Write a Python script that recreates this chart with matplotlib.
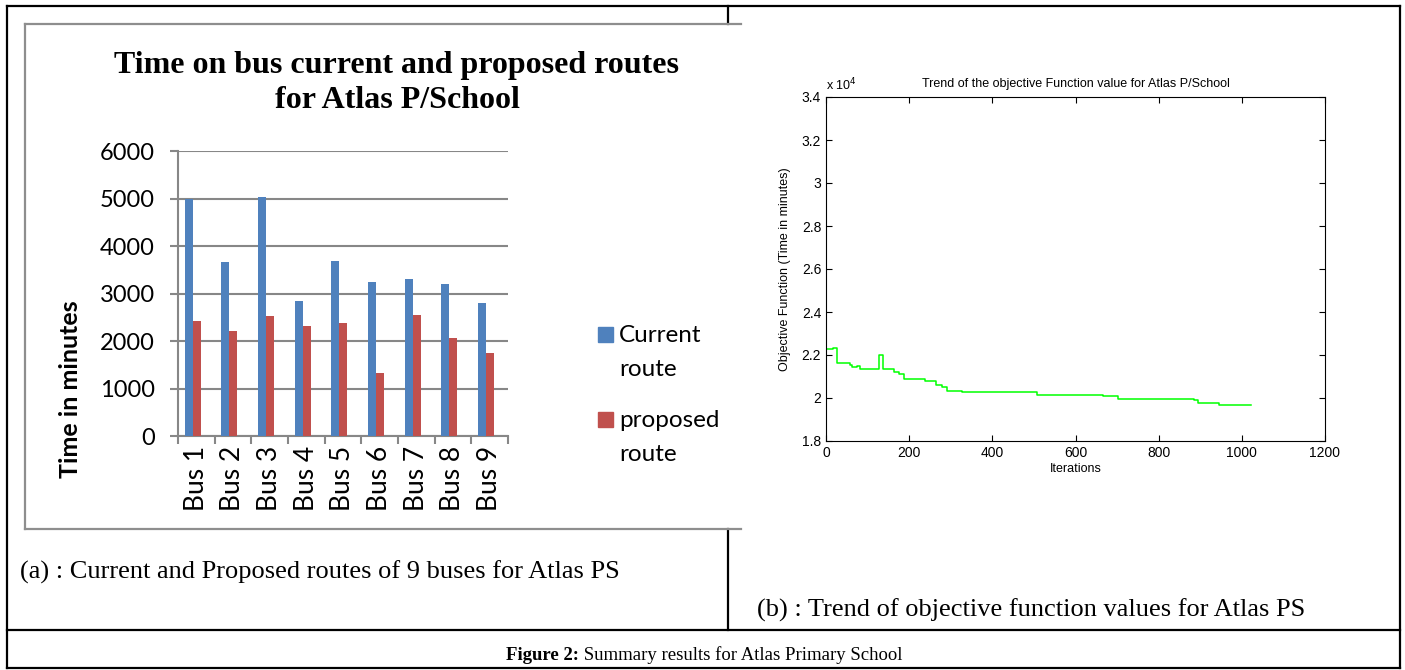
import numpy as np
import matplotlib.pyplot as plt
from matplotlib.ticker import FuncFormatter

# (a) time on bus, minutes
buses = ["Bus 1", "Bus 2", "Bus 3", "Bus 4", "Bus 5", "Bus 6", "Bus 7", "Bus 8", "Bus 9"]
current_route = [5000, 3660, 5040, 2850, 3680, 3240, 3300, 3200, 2800]
proposed_route = [2420, 2220, 2540, 2310, 2380, 1330, 2550, 2060, 1760]
series_names = ["Current\nroute", "proposed\nroute"]
bar_colors = ["#4F81BD", "#C0504D"]

# (b) objective function trend, step points (iteration, minutes)
iterations = [0, 1, 16, 26, 57, 62, 75, 82, 128, 138, 164, 176, 188, 238,
              265, 278, 290, 326, 507, 667, 703, 884, 894, 946, 1021]
objective = [32940, 22280, 22330, 21650, 21520, 21430, 21480, 21350, 22000,
             21350, 21200, 21130, 20900, 20810, 20600, 20530, 20340, 20280,
             20140, 20080, 19950, 19890, 19770, 19660, 19660]

W, H = 1405, 670
fig = plt.figure(figsize=(W / 100, H / 100), dpi=100)
fig.patch.set_facecolor("white")


def rect(x0, y0, x1, y1):
    # pixel box (top-left origin) -> figure fraction
    return [x0 / W, 1 - y1 / H, (x1 - x0) / W, (y1 - y0) / H]


# overlay for the table frame and captions
ov = fig.add_axes([0, 0, 1, 1])
ov.set_xlim(0, W)
ov.set_ylim(H, 0)
ov.axis("off")
ov.patch.set_visible(False)

blk = dict(color="black", lw=1.6, solid_capstyle="projecting")
ov.plot([7, 1400], [6, 6], **blk)
ov.plot([7, 1400], [668, 668], **blk)
ov.plot([7, 7], [6, 668], **blk)
ov.plot([1400, 1400], [6, 668], **blk)
ov.plot([7, 1400], [630, 630], **blk)
ov.plot([728, 728], [6, 24], **blk)
ov.plot([728, 728], [529, 630], **blk)

gry = dict(color="#8e8e8e", lw=1.6)
ov.plot([25, 741], [24, 24], **gry)
ov.plot([25, 741], [529, 529], **gry)
ov.plot([25, 25], [24, 529], **gry)

serif = "Liberation Serif"
sans = "Lato"

ov.text(397, 65, "Time on bus current and proposed routes", family=serif,
        weight="bold", fontsize=23, ha="center", va="center")
ov.text(397, 101, "for Atlas P/School", family=serif,
        weight="bold", fontsize=23, ha="center", va="center")
ov.text(70, 389, "Time in minutes", family=sans, weight="bold", fontsize=18,
        rotation=90, ha="center", va="center")

# legend
for i, (name, col) in enumerate(zip(series_names, bar_colors)):
    y0 = 334 + i * 85
    ov.add_patch(plt.Rectangle((598, y0 - 7.5), 15, 15, color=col))
    ov.text(619, y0 - 9, name, family=sans, fontsize=17.5, ha="left",
            va="top", linespacing=1.78)

ov.text(20, 572, "(a) : Current and Proposed routes of 9 buses for Atlas PS",
        family=serif, fontsize=19, ha="left", va="center")
ov.text(757, 610, "(b) : Trend of objective function values for Atlas PS",
        family=serif, fontsize=19, ha="left", va="center")
t1 = ov.text(506, 655, "Figure 2:", family=serif, weight="bold", fontsize=13.5,
             ha="left", va="center")
ov.annotate(" Summary results for Atlas Primary School", xy=(1, 0),
            xycoords=t1, family=serif, fontsize=13.5, ha="left", va="bottom")

# (a) bar chart
ax = fig.add_axes(rect(178, 151, 508, 436.3))
x = np.arange(len(buses))
bw = 0.218
ax.bar(x - 0.213, current_route, bw, color=bar_colors[0], zorder=3)
ax.bar(x + 0.009, proposed_route, bw, color=bar_colors[1], zorder=3)
ax.set_xlim(-0.5, len(buses) - 0.5)
ax.set_ylim(0, 6000)
ax.set_yticks(range(0, 6001, 1000))
ax.yaxis.grid(True, color="#878787", lw=1.5, zorder=0)
ax.set_xticks(x)
ax.set_xticklabels(buses, rotation=90, family=sans, fontsize=19)
ax.set_xticks(np.arange(-0.5, len(buses)), minor=True)
ax.tick_params(axis="x", which="major", length=0, pad=7)
ax.tick_params(axis="x", which="minor", length=5.5, width=1.5, color="#878787")
ax.tick_params(axis="y", length=5.5, width=1.5, color="#878787", pad=11)
for lab in ax.get_yticklabels():
    lab.set_family(sans)
    lab.set_fontsize(17)
for s in ["top", "right"]:
    ax.spines[s].set_visible(False)
for s in ["left", "bottom"]:
    ax.spines[s].set_color("#878787")
    ax.spines[s].set_linewidth(1.5)

# (b) objective trend
mf = "Liberation Sans"
bx = fig.add_axes(rect(826, 97, 1325, 441))
bx.plot(iterations, objective, color="#00ff00", lw=1.1, drawstyle="steps-post")
bx.set_xlim(0, 1200)
bx.set_ylim(18000, 34000)
bx.set_xticks(range(0, 1201, 200))
bx.set_yticks(range(18000, 34001, 2000))
bx.yaxis.set_major_formatter(FuncFormatter(lambda v, p: f"{v / 1e4:g}"))
bx.tick_params(direction="in", top=True, right=True, length=4, width=0.8,
               labelsize=10)
for lab in bx.get_xticklabels() + bx.get_yticklabels():
    lab.set_family(mf)
for s in bx.spines.values():
    s.set_linewidth(0.8)
bx.set_xlabel("Iterations", family=mf, fontsize=9, labelpad=2)
bx.set_ylabel("Objective Function (Time in minutes)", family=mf, fontsize=9,
              labelpad=8)
bx.text(0.5, 1.02, "Trend of the objective Function value for Atlas P/School",
        transform=bx.transAxes, family=mf, fontsize=9, ha="center", va="bottom")
bx.text(0.0, 1.01, r"x 10$^4$", transform=bx.transAxes, family=mf, fontsize=9,
        ha="left", va="bottom")

fig.savefig("out.png", dpi=100)
